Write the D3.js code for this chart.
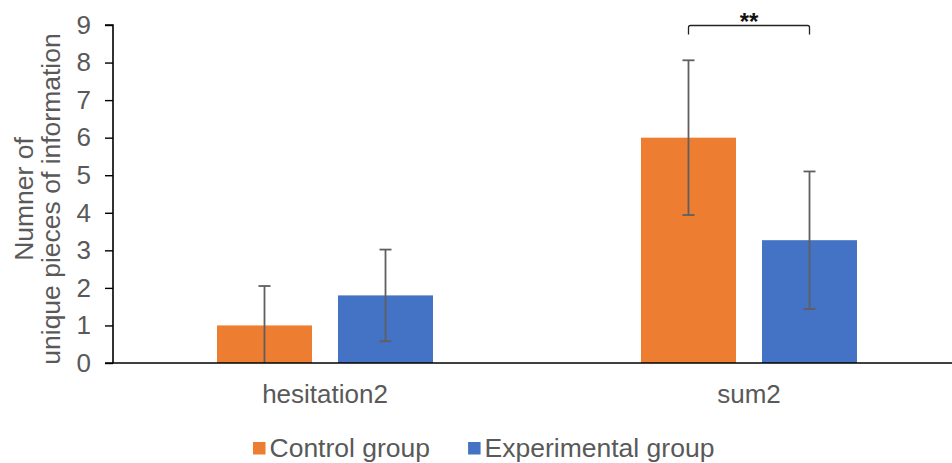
<!DOCTYPE html>
<html>
<head>
<meta charset="utf-8">
<script src="https://cdn.jsdelivr.net/npm/d3@7"></script>
<style>
  html, body { margin: 0; padding: 0; background: #fff; }
  svg { display: block; }
  text { font-family: "Liberation Sans", Arial, sans-serif; }
</style>
</head>
<body>
<svg id="chart" width="952" height="463"></svg>
<script>
// ---- data ----
const categories = ["hesitation2", "sum2"];
const seriesNames = ["Control group", "Experimental group"];
const controlMeans = [1.0, 6.0];
const controlErr = [1.05, 2.06];
const experimentalMeans = [1.8, 3.27];
const experimentalErr = [1.22, 1.83];
const yTicks = [0, 1, 2, 3, 4, 5, 6, 7, 8, 9];
const yTitleLines = ["Numner of", "unique pieces of information"];
const sigCategory = "sum2";
const sigLabel = "**";
const sigLevel = 9;

const colors = ["#ED7D31", "#4472C4"];
const textColor = "#595959";

const svg = d3.select("#chart");
const W = 952, H = 463;
const plotLeft = 113, plotTop = 25, plotBottom = 363;

const x0 = d3.scaleBand().domain(categories).range([plotLeft, plotLeft + 848]).padding(0);
const groupW = 216;
const x1 = d3.scaleBand().domain(seriesNames).range([0, groupW]).paddingInner(0.215);
const y = d3.scaleLinear().domain([0, 9]).range([plotBottom, plotTop]);

const rows = [];
categories.forEach((c, i) => {
  rows.push({cat: c, s: seriesNames[0], v: controlMeans[i], e: controlErr[i], k: 0});
  rows.push({cat: c, s: seriesNames[1], v: experimentalMeans[i], e: experimentalErr[i], k: 1});
});
const bx = d => x0(d.cat) + x0.bandwidth() / 2 - groupW / 2 + x1(d.s);
const cx = d => bx(d) + x1.bandwidth() / 2;

// bars
svg.append("g").selectAll("rect").data(rows).join("rect")
  .attr("x", bx)
  .attr("y", d => y(d.v))
  .attr("width", x1.bandwidth())
  .attr("height", d => y(0) - y(d.v))
  .attr("fill", d => colors[d.k]);

// error bars
const eg = svg.append("g").attr("stroke", "#5f5f5f").attr("stroke-width", 1.8).attr("fill", "none");
rows.forEach(d => {
  const hi = d.v + d.e, lo = Math.max(0, d.v - d.e);
  eg.append("line").attr("x1", cx(d)).attr("x2", cx(d)).attr("y1", y(hi)).attr("y2", y(lo));
  eg.append("line").attr("x1", cx(d) - 6).attr("x2", cx(d) + 6).attr("y1", y(hi)).attr("y2", y(hi));
  if (d.v - d.e > 0) {
    eg.append("line").attr("x1", cx(d) - 6).attr("x2", cx(d) + 6).attr("y1", y(lo)).attr("y2", y(lo));
  }
});

// y axis
const yAxis = d3.axisLeft(y).tickValues(yTicks).tickSize(8).tickPadding(14).tickFormat(d3.format("d"));
const ya = svg.append("g").attr("transform", `translate(${plotLeft},0)`).call(yAxis);
ya.select(".domain").attr("stroke", "#000").attr("stroke-width", 1.6).attr("d", `M-8,${y(9)}H0V${y(0)}`);
ya.selectAll(".tick line").attr("stroke", "#000").attr("stroke-width", 1.4);
ya.selectAll(".tick text").attr("fill", textColor).style("font-size", "26px")
  .style("font-family", "'Liberation Sans', Arial, sans-serif");

// x axis
const xAxis = d3.axisBottom(x0).tickSize(0).tickPadding(22);
const xa = svg.append("g").attr("transform", `translate(0,${plotBottom})`).call(xAxis);
xa.select(".domain").attr("stroke", "#000").attr("stroke-width", 1.6).attr("d", `M${plotLeft - 8},0H${W}`);
xa.selectAll(".tick text").attr("fill", textColor).style("font-size", "26px")
  .style("font-family", "'Liberation Sans', Arial, sans-serif");

// y title
const yt = svg.append("text").attr("transform", "translate(0,199) rotate(-90)")
  .attr("text-anchor", "middle").attr("fill", textColor).style("font-size", "26.5px");
yTitleLines.forEach((t, i) => {
  yt.append("tspan").attr("x", 0).attr("y", 33 + i * 27).text(t);
});

// significance bracket
const sc = rows.filter(d => d.cat === sigCategory);
const bxa = cx(sc[0]), bxb = cx(sc[1]), yb = y(sigLevel) + 0.5;
svg.append("path")
  .attr("d", `M${bxa},${yb + 9}V${yb + 2}Q${bxa},${yb} ${bxa + 2},${yb}H${bxb - 2}Q${bxb},${yb} ${bxb},${yb + 2}V${yb + 9}`)
  .attr("fill", "none").attr("stroke", "#222").attr("stroke-width", 1.3);
svg.append("text").attr("x", (bxa + bxb) / 2).attr("y", yb + 4.5)
  .attr("text-anchor", "middle").attr("fill", "#111").style("font-size", "24px").style("font-weight", "bold")
  .text(sigLabel);

// legend
const lg = svg.append("g");
let lx = 253;
seriesNames.forEach((s, i) => {
  lg.append("rect").attr("x", lx).attr("y", 442).attr("width", 12.5).attr("height", 12.5).attr("fill", colors[i]);
  const t = lg.append("text").attr("x", lx + 16.5).attr("y", 457).attr("fill", textColor)
    .style("font-size", "26.5px").text(s);
  lx = lx + 16.5 + t.node().getComputedTextLength() + 38;
});
</script>
</body>
</html>
